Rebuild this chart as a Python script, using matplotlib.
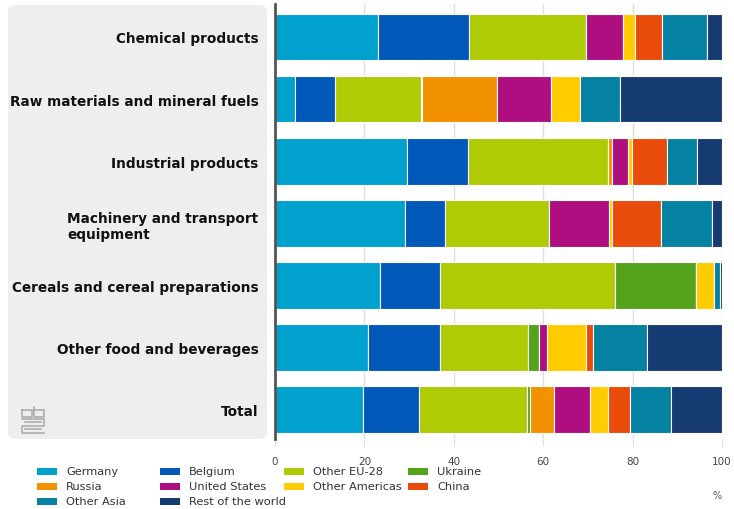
import matplotlib.pyplot as plt
from matplotlib.patches import FancyBboxPatch, Rectangle

categories = [
    "Chemical products",
    "Raw materials and mineral fuels",
    "Industrial products",
    "Machinery and transport\nequipment",
    "Cereals and cereal preparations",
    "Other food and beverages",
    "Total",
]

series_names = ["Germany", "Belgium", "Other EU-28", "Ukraine", "Russia",
                "United States", "Other Americas", "China", "Other Asia",
                "Rest of the world"]
germany = [23.0, 4.5, 29.6, 29.1, 23.6, 20.7, 19.7]
belgium = [20.4, 8.9, 13.6, 8.9, 13.3, 16.3, 12.6]
other_eu = [26.2, 19.2, 31.3, 23.4, 39.2, 19.7, 24.0]
ukraine = [0.0, 0.3, 0.0, 0.0, 18.1, 2.4, 0.7]
russia = [0.0, 16.8, 1.0, 0.0, 0.0, 0.0, 5.5]
united_states = [8.2, 12.0, 3.5, 13.4, 0.0, 1.7, 8.0]
other_americas = [2.7, 6.6, 0.8, 0.5, 4.1, 8.8, 4.1]
china = [6.0, 0.0, 8.0, 11.0, 0.0, 1.5, 4.8]
other_asia = [10.1, 8.9, 6.5, 11.5, 1.3, 12.1, 9.3]
rest_world = [3.4, 22.8, 5.7, 2.2, 0.4, 16.8, 11.3]

series = [germany, belgium, other_eu, ukraine, russia, united_states,
          other_americas, china, other_asia, rest_world]
colors = ["#00a1cd", "#0058b8", "#afcb05", "#53a31d", "#f39200",
          "#af0e80", "#ffcc00", "#e94c0a", "#0581a2", "#163a72"]

W, H = 734, 510
fig = plt.figure(figsize=(W / 100, H / 100), dpi=100)

# grey label panel behind the category names
panel = FancyBboxPatch((8 / W, 70 / H), (267 - 8) / W, (504 - 70) / H,
                       boxstyle="round,pad=0,rounding_size=0.012",
                       transform=fig.transFigure, facecolor="#eeeeee",
                       edgecolor="none", zorder=-5)
fig.patches.append(panel)

ax = fig.add_axes([275 / W, 70 / H, (722 - 275) / W, (505 - 70) / H])
ax.set_facecolor("none")
ax.set_zorder(2)

y = list(range(len(categories)))
left = [0.0] * len(categories)
for name, vals, col in zip(series_names, series, colors):
    ax.barh(y, vals, left=left, height=0.75, color=col, edgecolor="white",
            linewidth=0.8, label=name, zorder=3)
    left = [l + v for l, v in zip(left, vals)]

ax.set_xlim(0, 100)
ax.set_ylim(6.47, -0.53)
ax.set_xticks([0, 20, 40, 60, 80, 100])
ax.set_xticklabels(["0", "20", "40", "60", "80", "100"], fontsize=7.5,
                   color="#444444")
ax.tick_params(axis="x", length=5, color="#dddddd", pad=7)
ax.grid(axis="x", color="#dddddd", linewidth=1, zorder=0)
ax.set_axisbelow(True)

ax.set_yticks(y)
ax.set_yticklabels(categories, fontsize=9.8, fontweight="bold",
                   color="#111111", multialignment="left")
ax.tick_params(axis="y", length=0, pad=12)

for s in ["top", "right", "bottom"]:
    ax.spines[s].set_visible(False)
ax.spines["left"].set_color("#555555")
ax.spines["left"].set_linewidth(2)
ax.spines["left"].set_zorder(5)

fig.text(717 / W, 1 - 496 / H, "%", fontsize=7, color="#555555",
         ha="center", va="center")

# legend laid out as a 4-column grid
col_x = [37, 160, 284, 408]
row_y = [472, 487, 502]
for i, (name, col) in enumerate(zip(series_names, colors)):
    r, c = divmod(i, 4)
    x0 = col_x[c]
    y0 = row_y[r]
    fig.patches.append(Rectangle((x0 / W, 1 - (y0 + 3.5) / H), 20 / W, 7 / H,
                                 transform=fig.transFigure, facecolor=col,
                                 edgecolor="none"))
    fig.text((x0 + 29) / W, 1 - y0 / H, name, fontsize=8.2, color="#333333",
             va="center", ha="left")

# small cbs-style logo in the panel
lg = "#a8a8a8"
logo_lines = [
    [(22, 411), (32, 411), (32, 418), (22, 418), (22, 411)],
    [(34, 408), (34, 418), (44, 418), (44, 411), (34, 411)],
    [(22, 420), (44, 420), (44, 427), (22, 427), (22, 434), (44, 434)],
    [(25, 423), (41, 423)],
    [(25, 430), (41, 430)],
]
for pts in logo_lines:
    xs = [p[0] / W for p in pts]
    ys = [1 - p[1] / H for p in pts]
    fig.add_artist(plt.Line2D(xs, ys, color=lg, linewidth=1.1,
                              transform=fig.transFigure))

fig.savefig("out.png", dpi=100)
